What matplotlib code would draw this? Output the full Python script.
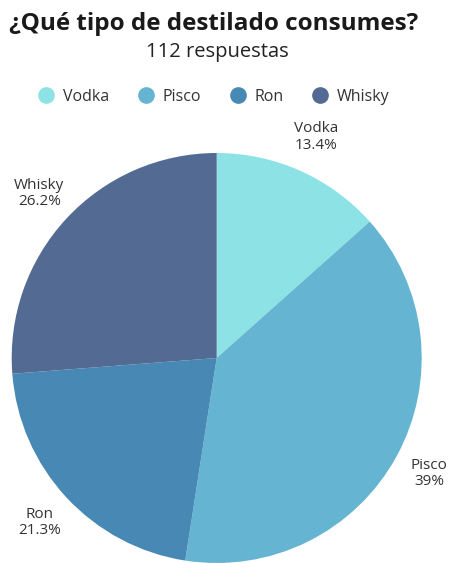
import matplotlib.pyplot as plt
from matplotlib.lines import Line2D

plt.rcParams['font.family'] = ['Open Sans', 'DejaVu Sans']

categorias = ['Vodka', 'Pisco', 'Ron', 'Whisky']
porcentajes = [13.4, 39, 21.3, 26.2]
etiquetas = ['Vodka\n13.4%', 'Pisco\n39%', 'Ron\n21.3%', 'Whisky\n26.2%']
colores = ['#8ce2e5', '#64b4d2', '#4788b4', '#536a93']

W, H = 450, 563
fig = plt.figure(figsize=(W / 100, H / 100), dpi=100)

# torta: centro (217, 358) px, radio 205 px
cx, cy, r = 216.7, 358, 205
ax = fig.add_axes([(cx - r) / W, (H - cy - r) / H, 2 * r / W, 2 * r / H])
wedges, textos = ax.pie(porcentajes, labels=etiquetas, colors=colores,
                        startangle=90, counterclock=False, labeldistance=1.18,
                        textprops={'fontsize': 11, 'color': '#333333'},
                        wedgeprops={'linewidth': 0})
for t in textos:
    t.set_ha('center')
    t.set_va('center')
    t.set_linespacing(1.15)
    t.set_clip_on(False)
ax.set_xlim(-1, 1)
ax.set_ylim(-1, 1)
ax.set_aspect('equal')
ax.axis('off')

fig.text(9 / W, 1 - 24 / H, '¿Qué tipo de destilado consumes?', fontsize=17.5,
         fontweight='bold', color='#1a1a1a', ha='left', va='center')
fig.text(217 / W, 1 - 52 / H, '112 respuestas', fontsize=14.5, color='#222222',
         ha='center', va='center')

handles = [Line2D([], [], marker='o', linestyle='', markersize=11,
                  markerfacecolor=c, markeredgecolor=c) for c in colores]
fig.legend(handles, categorias, loc='center', bbox_to_anchor=(213 / W, 1 - 97 / H),
           ncol=4, frameon=False, fontsize=11.5, handletextpad=0.45,
           columnspacing=1.7, handlelength=1.2, labelcolor='#333333')

fig.savefig('out.png', dpi=100)
